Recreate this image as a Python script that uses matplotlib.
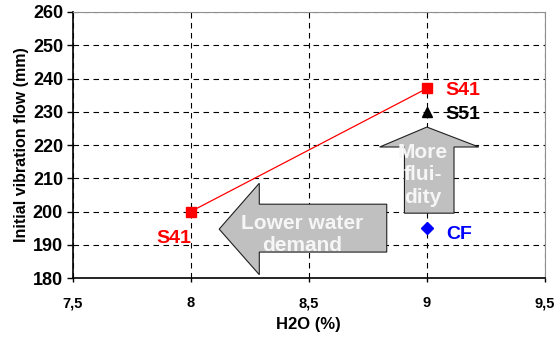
import matplotlib.pyplot as plt
from matplotlib.patches import Polygon

plt.rcParams['font.family'] = ['Liberation Sans', 'DejaVu Sans']
plt.rcParams['font.weight'] = 'bold'

# data
s41_x = [8, 9]
s41_y = [200, 237]
s51_x = [9]
s51_y = [230]
cf_x = [9]
cf_y = [195]

xticks = [7.5, 8, 8.5, 9, 9.5]
xtick_labels = ['7,5', '8', '8,5', '9', '9,5']
yticks = [180, 190, 200, 210, 220, 230, 240, 250, 260]

fig = plt.figure(figsize=(5.56, 3.38), dpi=100)
ax = fig.add_axes([0.131, 0.1775, 0.849, 0.787])

# gray block arrows with clipped white text
left_arrow = [(8.12, 194.7), (8.29, 208.5), (8.29, 202.2), (8.83, 202.2),
              (8.83, 187.8), (8.29, 187.8), (8.29, 181.0)]
up_arrow = [(9.0, 225.4), (9.22, 219.4), (9.115, 219.4), (9.115, 199.5),
            (8.905, 199.5), (8.905, 219.4), (8.80, 219.4)]
patches = []
for pts in (left_arrow, up_arrow):
    p = Polygon(pts, closed=True, facecolor='#c0c0c0',
                edgecolor='#202020', linewidth=0.8, zorder=3)
    ax.add_patch(p)
    patches.append(p)

t1 = ax.text(8.47, 193.0, 'Lower water\ndemand', color='#f6f6f6', fontsize=15,
             fontweight='bold', ha='center', va='center', linespacing=1.2,
             zorder=4)
t1.set_clip_path(patches[0])
t2 = ax.text(8.983, 211.0, 'More\nflui-\ndity', color='#f6f6f6', fontsize=15,
             fontweight='bold', ha='center', va='center', linespacing=1.25,
             zorder=4)
t2.set_clip_path(patches[1])

ax.plot(s41_x, s41_y, color='red', linewidth=0.9, marker='s', markersize=7,
        zorder=5)
ax.plot(s51_x, s51_y, color='black', linestyle='none', marker='^',
        markersize=7, zorder=5)
ax.plot(cf_x, cf_y, color='blue', linestyle='none', marker='D',
        markersize=6.5, zorder=5)

ax.text(9.08, 236.3, 'S41', color='red', fontsize=14, fontweight='bold',
        va='center', ha='left', zorder=5)
ax.text(9.08, 229.3, 'S51', color='black', fontsize=14, fontweight='bold',
        va='center', ha='left', zorder=5)
ax.text(9.08, 193.0, 'CF', color='blue', fontsize=14, fontweight='bold',
        va='center', ha='left', zorder=5)
ax.text(8.0, 192.0, 'S41', color='red', fontsize=14, fontweight='bold',
        va='center', ha='right', zorder=5)

ax.set_xlim(7.5, 9.5)
ax.set_ylim(180, 260)
ax.set_xticks(xticks)
ax.set_xticklabels(xtick_labels, fontsize=10.5, fontweight='bold')
ax.set_yticks(yticks)
ax.set_yticklabels([str(v) for v in yticks], fontsize=13, fontweight='bold')
ax.tick_params(axis='x', length=3, direction='out', width=1, pad=10)
ax.tick_params(axis='y', length=4, direction='out', width=1, pad=3)

ax.grid(True, color='black', linestyle=(0, (5, 4)), linewidth=0.8)
ax.set_axisbelow(True)

ax.spines['left'].set_color('black')
ax.spines['bottom'].set_color('black')
ax.spines['left'].set_linewidth(1.2)
ax.spines['bottom'].set_linewidth(1.2)
ax.spines['right'].set_color('#909090')
ax.spines['top'].set_color('#909090')

ax.set_xlabel('H2O (%)', fontsize=12, fontweight='bold', labelpad=5)
ax.set_ylabel('Initial vibration flow (mm)', fontsize=11.5, fontweight='bold',
              labelpad=3)

fig.savefig('out.png', dpi=100)
